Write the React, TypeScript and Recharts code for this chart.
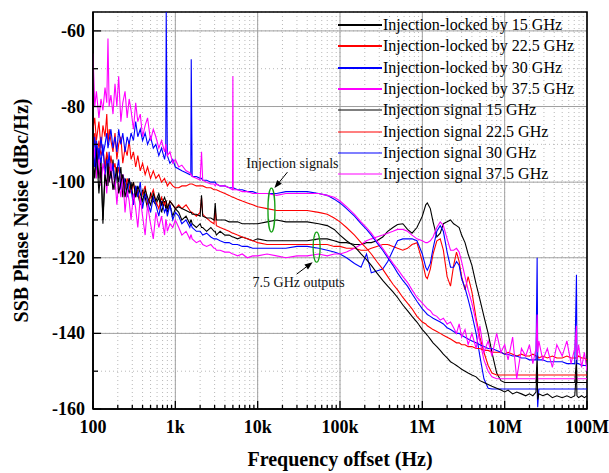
import { CartesianGrid, Label, Legend, Line, LineChart, ReferenceArea, ReferenceDot, XAxis, YAxis } from 'recharts';

// frequency offsets (Hz), shared by every trace
const FREQ = [
  100, 105, 110, 118, 125, 132, 140, 147, 152, 157,
  165, 175, 185, 195, 205, 218, 230, 245, 260, 275,
  290, 310, 330, 350, 375, 400, 430, 460, 500, 540,
  580, 630, 680, 740, 765, 775, 800, 860, 930, 1000,
  1100, 1200, 1350, 1500, 1540, 1560, 1600, 1800, 2000, 2080,
  2150, 2400, 2700, 2950, 3050, 3150, 3500, 4000, 4500, 4950,
  5000, 5050, 5700, 6500, 7500, 8700, 10000, 13000, 17000, 22000,
  30000, 40000, 55000, 70000, 85000, 100000, 120000, 150000, 180000, 210000,
  240000, 280000, 330000, 380000, 440000, 500000, 580000, 660000, 750000, 860000,
  1e6, 1.1e6, 1.15e6, 1.25e6, 1.35e6, 1.5e6, 1.65e6, 1.8e6, 2e6, 2.2e6,
  2.4e6, 2.6e6, 2.8e6, 3e6, 3.3e6, 3.6e6, 4e6, 4.5e6, 5e6, 5.6e6,
  6.3e6, 7e6, 8e6, 9e6, 1e7, 1.1e7, 1.25e7, 1.4e7, 1.6e7, 1.8e7,
  2e7, 2.2e7, 2.4e7, 2.48e7, 2.52e7, 2.6e7, 2.9e7, 3.3e7, 3.8e7, 4.3e7,
  5e7, 5.7e7, 6.4e7, 7.1e7, 7.45e7, 7.55e7, 7.9e7, 8.6e7, 9.3e7, 1e8,
];

// 7.5 GHz outputs (dBc/Hz)
const OUT_15 = [
  -92, -96, -90, -99, -94, -110, -97, -93, -101, -96,
  -98, -94, -102, -97, -100, -96, -104, -99, -101, -103,
  -100, -105, -101, -103, -106, -102, -104, -107, -103, -105,
  -106, -104, -108, -105, -107, -106, -108, -106, -109, -107,
  -108, -110, -109, -111, -110, -110, -111, -112, -111, -112,
  -112, -113, -112, -113, -113, -114, -113, -114, -114, -114.5,
  -114.5, -114.5, -115, -114.5, -115, -115.5, -115, -115.5, -115.5, -115.5,
  -115.5, -115.5, -115, -115, -115.5, -116, -116, -116.5, -116.5, -116,
  -116, -115.5, -114.5, -113, -112, -111.2, -111, -112.5, -113.5, -112,
  -109, -106, -105.5, -107, -110.5, -114.5, -113.5, -111, -110.5, -110,
  -111, -111.5, -112, -114, -116, -119, -122, -127, -131, -135.5,
  -140, -145, -150.5, -152.5, -153, -153, -153, -153, -153, -153,
  -153, -153, -153, -146, -153, -153, -153, -153, -153, -153,
  -153, -153, -153, -153, -147, -153, -153, -153, -153, -153,
];

const OUT_22 = [
  -90, -87, -95, -89, -93, -91, -96, -92, -94, -98,
  -93, -97, -95, -99, -96, -100, -98, -102, -99, -101,
  -103, -100, -104, -102, -105, -103, -101, -106, -104, -102,
  -105, -107, -104, -106, -105, -105, -107, -105, -106, -107,
  -106, -107, -106, -107.5, -108, -108, -108, -109, -108, -104,
  -108.5, -109.5, -110.5, -111, -107, -111.5, -112, -112.5, -113, -113.5,
  -113.5, -113.5, -114, -114.5, -115, -115.5, -116, -116.5, -116.5, -116.5,
  -116.5, -116.5, -116.5, -116.5, -117, -117, -117.5, -117.5, -118, -118,
  -117.5, -117, -116.5, -116.5, -117, -117.5, -118, -117.5, -116.5, -116,
  -121, -125, -125.5, -123, -119, -115.5, -115, -118, -125, -127.5,
  -122, -118.5, -121, -125, -128.5, -125, -129, -136, -141, -145,
  -148.5, -150.5, -151, -151, -151, -151, -151, -151, -151, -151,
  -151, -151, -151, -151, -151, -151, -151, -151, -151, -151,
  -151, -151, -151, -151, -151, -151, -151, -151, -151, -151,
];

const OUT_30 = [
  -93, -88, -97, -91, -95, -90, -99, -94, -96, -92,
  -99, -95, -101, -97, -94, -102, -98, -100, -104, -99,
  -102, -106, -101, -104, -100, -107, -103, -105, -108, -104,
  -106, -109, -105, -108, -107, -107, -109, -106, -110, -108,
  -109, -111, -110, -112, -111, -111, -112, -113, -113, -113.5,
  -114, -113.5, -114.5, -115, -115, -115, -115.5, -116, -116, -116.5,
  -116.5, -116.5, -116.5, -117, -117, -117.5, -117.5, -117.5, -117.5, -117.5,
  -117, -117, -117.5, -118, -118.5, -119, -120, -121.5, -122.5, -119,
  -124, -123.5, -123, -121, -118, -115.5, -115, -115, -115, -115.5,
  -119, -122.5, -123.3, -121.5, -117.5, -113, -111.5, -113, -118.5, -122.5,
  -122.5, -121, -122, -125.5, -128, -131, -135, -140, -146, -152,
  -154.5, -154.7, -154.7, -154.7, -154.7, -154.7, -154.7, -154.7, -154.7, -154.7,
  -154.7, -154.7, -154.7, -154.7, -159.5, -154.7, -154.7, -154.7, -154.7, -154.7,
  -154.7, -154.7, -154.7, -154.7, -154.7, -154.7, -154.7, -154.7, -154.7, -154.7,
];

const OUT_37 = [
  -96, -91, -99, -93, -101, -95, -98, -103, -97, -100,
  -95, -102, -99, -106, -100, -104, -98, -108, -102, -105,
  -110, -103, -107, -112, -104, -109, -114, -106, -111, -115,
  -108, -112, -109, -114, -110, -110, -113, -111, -112, -110,
  -112, -114, -113, -115, -114, -114, -115, -116, -115.5, -116,
  -116.5, -117, -116.5, -117.5, -117.5, -118, -118, -118.5, -118.5, -119,
  -119, -119, -119.5, -119, -120, -119.5, -119.5, -119, -119.5, -120,
  -119.5, -119.5, -119, -119.5, -119, -119, -118.5, -117.5, -116.5, -115.5,
  -115, -114.5, -114, -113.5, -113, -112.5, -112.5, -113, -114, -115,
  -115.5, -116, -116, -115.5, -114.5, -112, -110.5, -111.5, -115, -118,
  -118, -117.5, -118.5, -121, -125, -128.5, -132, -137, -142, -147,
  -150, -151.5, -152, -152, -152, -152, -152, -152, -152, -152,
  -152, -152, -152, -152, -152, -152, -152, -152, -152, -152,
  -152, -152, -152, -152, -152, -152, -152, -152, -152, -152,
];

// injection signals (dBc/Hz)
const INJ_15 = [
  -94, -99, -91, -103, -96, -111, -98, -101, -95, -100,
  -97, -102, -99, -96, -103, -100, -98, -104, -101, -99,
  -102, -100, -104, -101, -103, -105, -102, -104, -106, -103,
  -105, -103, -106, -104, -105, -105, -107, -105, -106, -107,
  -106.5, -107, -107.5, -108, -108, -108, -108.5, -108.5, -109, -103.5,
  -109, -109.5, -109.5, -110, -105.5, -110, -110, -110, -110.5, -110.5,
  -110.5, -110.5, -110.5, -111, -111, -111, -111, -110.5, -110, -110.5,
  -110.5, -110.5, -111, -111.5, -112.5, -114, -115.5, -117, -119, -120.5,
  -122, -124, -126, -127.5, -129, -130.5, -132.5, -134, -135.5, -137,
  -139, -140, -140.5, -141.5, -142.5, -143.5, -144.5, -145.5, -146.5, -147.5,
  -148, -148.5, -149, -149.5, -150, -150.5, -151, -151.5, -152.5, -153,
  -153.5, -154, -154.5, -155, -155.5, -155, -156, -155.5, -156, -156.5,
  -156, -156.5, -155.5, -149, -157.5, -156, -156.5, -156, -157, -156.5,
  -157, -156.5, -157, -156.5, -150, -156.5, -157, -156.5, -157, -156.5,
];

const INJ_22 = [
  -86, -83, -89, -84, -91, -85, -88, -82, -90, -86,
  -89, -92, -87, -94, -90, -88, -95, -91, -93, -89,
  -94, -92, -96, -93, -97, -95, -98, -96, -99, -97,
  -99, -98, -100, -99, -100, -100, -101, -100, -101, -101.5,
  -101.5, -101, -101, -100.5, -100.5, -100.5, -100.5, -101, -101, -101,
  -101, -101.5, -101.5, -102, -102, -102, -102.5, -103, -103.5, -104,
  -104, -104, -104.5, -105, -105.5, -106, -106.5, -107, -107.5, -107.5,
  -107.5, -107.5, -108, -108.5, -109.5, -110.5, -112, -114, -116, -117.5,
  -119, -121, -123, -125, -127, -128.5, -130.5, -132, -133.5, -135.5,
  -137, -137.5, -138, -138.5, -139, -139.5, -140, -140.5, -141, -141.5,
  -142, -142.5, -142.5, -143, -143, -143.5, -143.5, -144, -144, -144.5,
  -144.5, -145, -145, -145, -145.5, -145, -145.5, -146, -145.5, -146,
  -146, -145.5, -146, -146, -146, -146.5, -146, -146.5, -146, -146.5,
  -146.5, -146, -146.5, -146.5, -146.5, -146.5, -146, -146.5, -146.5, -147,
];

const INJ_30 = [
  -92, -96, -89, -94, -88, -93, -90, -87, -91, -89,
  -86, -91, -88, -92, -86, -90, -87, -92, -88, -90,
  -87, -89, -84, -88, -86, -89, -87, -90, -88, -91,
  -90, -93, -91, -94, -92, -55, -93, -95, -94, -96,
  -96.5, -97, -97.5, -98, -98, -67.5, -98.5, -98.5, -99, -99,
  -99.5, -99.5, -100, -100, -100, -100.5, -101, -101, -101.5, -101.5,
  -101.5, -101.5, -102, -102, -102.5, -102.5, -103, -103, -103, -102.5,
  -102.5, -102.5, -103, -103.5, -104.5, -105.5, -107, -109, -111, -112.5,
  -114, -116, -118, -120, -122, -124, -126, -127.5, -129.5, -131.5,
  -133.5, -134.5, -135, -135.5, -136, -136.5, -137, -137.5, -138.5, -139,
  -139.5, -140, -140, -140.5, -141, -141.5, -142, -142.5, -143, -143.5,
  -144, -144, -144.5, -145, -145.5, -145.5, -146, -146, -146.5, -146.5,
  -147, -147, -147, -120, -147, -147, -147, -147.5, -147.5, -147.5,
  -147.5, -148, -148, -148, -124.5, -148, -148, -148.5, -148.5, -148.5,
];

const INJ_37 = [
  -66, -80, -76, -83, -78, -81, -75, -79, -62, -80,
  -77, -82, -74, -80, -72, -84, -79, -76, -83, -78,
  -81, -86, -79, -84, -82, -88, -85, -83, -89, -86,
  -88, -91, -89, -92, -90, -91, -93, -92, -95, -94,
  -96, -95.5, -97, -97.5, -98, -98, -98.5, -99, -99.5, -92,
  -99.5, -100, -100.5, -100.5, -101, -100.5, -101, -101, -101.5, -102,
  -72, -102, -102, -102.5, -102.5, -103, -103, -103, -103.5, -103,
  -103, -103, -103, -103.5, -104, -105, -106.5, -108.5, -110.5, -112,
  -113.5, -115.5, -117.5, -119.5, -121.5, -123, -125, -126.5, -128.5, -130.5,
  -132, -133, -133.5, -134, -135, -135.5, -136.5, -136, -137.5, -137,
  -138.5, -140, -137.5, -141, -139, -143, -140, -144, -138, -145,
  -142, -146, -140, -145, -143, -147, -141, -152, -144, -146,
  -143, -148, -144, -135, -145, -142, -147, -144, -149, -143,
  -146, -142, -148, -144, -138, -147, -143, -149, -145, -150,
];

const X_MAJOR = [1e2, 1e3, 1e4, 1e5, 1e6, 1e7, 1e8];
const X_TICK_LABELS = ['100', '1k', '10k', '100k', '1M', '10M', '100M'];
const X_MINOR_STEPS = [2, 3, 4, 5, 6, 7, 8, 9];
const Y_MAJOR = [-160, -140, -120, -100, -80, -60];
const Y_MINOR = [-150, -130, -110, -90, -70];

const SERIES = [
  { key: 'out15', name: 'Injection-locked by 15 GHz', color: '#000000', values: OUT_15 },
  { key: 'out22', name: 'Injection-locked by 22.5 GHz', color: '#ff0000', values: OUT_22 },
  { key: 'out30', name: 'Injection-locked by 30 GHz', color: '#0000ff', values: OUT_30 },
  { key: 'out37', name: 'Injection-locked by 37.5 GHz', color: '#ff00ff', values: OUT_37 },
  { key: 'inj15', name: 'Injection signal 15 GHz', color: '#000000', values: INJ_15 },
  { key: 'inj22', name: 'Injection signal 22.5 GHz', color: '#ff0000', values: INJ_22 },
  { key: 'inj30', name: 'Injection signal 30 GHz', color: '#0000ff', values: INJ_30 },
  { key: 'inj37', name: 'Injection signal 37.5 GHz', color: '#ff00ff', values: INJ_37 },
];

const SERIF = '"Liberation Serif", "Times New Roman", serif';

const X_TICKS = X_MAJOR.slice(0, -1)
  .flatMap((d) => X_MINOR_STEPS.map((m) => m * d))
  .concat(X_MAJOR)
  .sort((a, b) => a - b);
const Y_TICKS = [...Y_MAJOR, ...Y_MINOR].sort((a, b) => a - b);

const rows = FREQ.map((f, i) => {
  const row: Record<string, number> = { f };
  SERIES.forEach((s) => (row[s.key] = s.values[i]));
  return row;
});

const XTick = ({ x, y, payload }: any) => {
  const i = X_MAJOR.indexOf(payload.value);
  return (
    <g>
      <line x1={x} x2={x} y1={y} y2={y - (i >= 0 ? 8 : 4)} stroke="#000" strokeWidth={1.3} />
      {i >= 0 && (
        <text x={x} y={y + 18} textAnchor="middle" dominantBaseline="central" fontFamily={SERIF} fontWeight="bold" fontSize={18} fill="#000">
          {X_TICK_LABELS[i]}
        </text>
      )}
    </g>
  );
};

const YTick = ({ x, y, payload }: any) => {
  const major = Y_MAJOR.includes(payload.value);
  return (
    <g>
      <line x1={x} x2={x + (major ? 8 : 5)} y1={y} y2={y} stroke="#000" strokeWidth={1.3} />
      {major && (
        <text x={x - 8} y={y} textAnchor="end" dominantBaseline="central" fontFamily={SERIF} fontWeight="bold" fontSize={18} fill="#000">
          {payload.value}
        </text>
      )}
    </g>
  );
};

const XTitle = ({ viewBox }: any) => (
  <text x={viewBox.x + viewBox.width / 2} y={viewBox.y + 50} textAnchor="middle" dominantBaseline="central" fontFamily={SERIF} fontWeight="bold" fontSize={20} fill="#000">
    Frequency offset (Hz)
  </text>
);

const YTitle = ({ viewBox }: any) => {
  const cx = viewBox.x + 21;
  const cy = viewBox.y + viewBox.height / 2;
  return (
    <text x={cx} y={cy} transform={`rotate(-90 ${cx} ${cy})`} textAnchor="middle" dominantBaseline="central" fontFamily={SERIF} fontWeight="bold" fontSize={20} fill="#000">
      SSB Phase Noise (dBc/Hz)
    </text>
  );
};

// green ellipse + arrow + caption, placed around a data point
const Callout = ({ cx, cy, rx, ry, text, textDx, textDy, arrow }: any) => {
  const [x1, y1, x2, y2] = [cx + arrow[0], cy + arrow[1], cx + arrow[2], cy + arrow[3]];
  const len = Math.hypot(x2 - x1, y2 - y1);
  const ux = (x2 - x1) / len;
  const uy = (y2 - y1) / len;
  const bx = x2 - ux * 8;
  const by = y2 - uy * 8;
  return (
    <g>
      <ellipse cx={cx} cy={cy} rx={rx} ry={ry} fill="none" stroke="#14a014" strokeWidth={1.3} />
      <line x1={x1} y1={y1} x2={bx} y2={by} stroke="#000" strokeWidth={1} />
      <polygon points={`${x2},${y2} ${bx - uy * 3},${by + ux * 3} ${bx + uy * 3},${by - ux * 3}`} fill="#000" />
      <text x={cx + textDx} y={cy + textDy} textAnchor="middle" dominantBaseline="central" fontFamily={SERIF} fontSize={14} fill="#111">
        {text}
      </text>
    </g>
  );
};

const LegendBox = () => (
  <div style={{ fontFamily: SERIF, fontSize: 16, color: '#000', lineHeight: 1 }}>
    {SERIES.map((s, i) => (
      <div key={s.key} style={{ display: 'flex', alignItems: 'center', height: 21.3, whiteSpace: 'nowrap' }}>
        <svg width={45} height={6} style={{ display: 'block', flex: 'none' }}>
          <line x1={0} x2={44} y1={3} y2={3} stroke={s.color} strokeWidth={i < 4 ? 1.8 : 1.2} />
        </svg>
        <span>{s.name}</span>
      </div>
    ))}
  </div>
);

export default function App() {
  return (
    <div style={{ position: 'absolute', left: 0, top: 0, width: 609, height: 473, background: '#fff' }}>
      <LineChart width={609} height={473} data={rows} margin={{ top: 12, right: 22, bottom: 0, left: 0 }}>
        <CartesianGrid stroke="#b8b8b8" strokeDasharray="1 3" />
        <CartesianGrid stroke="#a0a0a0" verticalValues={X_MAJOR} horizontalValues={Y_MAJOR} />
        <XAxis
          dataKey="f"
          type="number"
          scale="log"
          domain={[100, 1e8]}
          allowDataOverflow
          ticks={X_TICKS}
          interval={0}
          tickSize={0}
          tickMargin={0}
          tickLine={false}
          tick={XTick}
          axisLine={{ stroke: '#000', strokeWidth: 1.6 }}
          height={64}
        >
          <Label content={XTitle} />
        </XAxis>
        <YAxis
          type="number"
          domain={[-160, -55]}
          allowDataOverflow
          ticks={Y_TICKS}
          interval={0}
          tickSize={0}
          tickMargin={0}
          tickLine={false}
          tick={YTick}
          axisLine={{ stroke: '#000', strokeWidth: 1.6 }}
          width={93}
        >
          <Label content={YTitle} />
        </YAxis>
        {SERIES.map((s) => (
          <Line
            key={s.key}
            dataKey={s.key}
            name={s.name}
            stroke={s.color}
            strokeWidth={1.1}
            dot={false}
            activeDot={false}
            isAnimationActive={false}
          />
        ))}
        <ReferenceArea x1={100} x2={1e8} y1={-160} y2={-55} fill="none" stroke="#000" strokeWidth={1.6} />
        <ReferenceDot
          x={14700}
          y={-107.4}
          r={0}
          shape={(p: any) => <Callout {...p} rx={3.5} ry={22} text="Injection signals" textDx={21} textDy={-47} arrow={[16, -38, 3, -22]} />}
        />
        <ReferenceDot
          x={52000}
          y={-117.2}
          r={0}
          shape={(p: any) => <Callout {...p} rx={3.5} ry={15} text="7.5 GHz outputs" textDx={-18} textDy={35} arrow={[-20, 27, -4, 15]} />}
        />
        <Legend
          layout="vertical"
          align="center"
          verticalAlign="middle"
          wrapperStyle={{ top: 14.4, left: 338, width: 265 }}
          content={LegendBox}
        />
      </LineChart>
    </div>
  );
}
